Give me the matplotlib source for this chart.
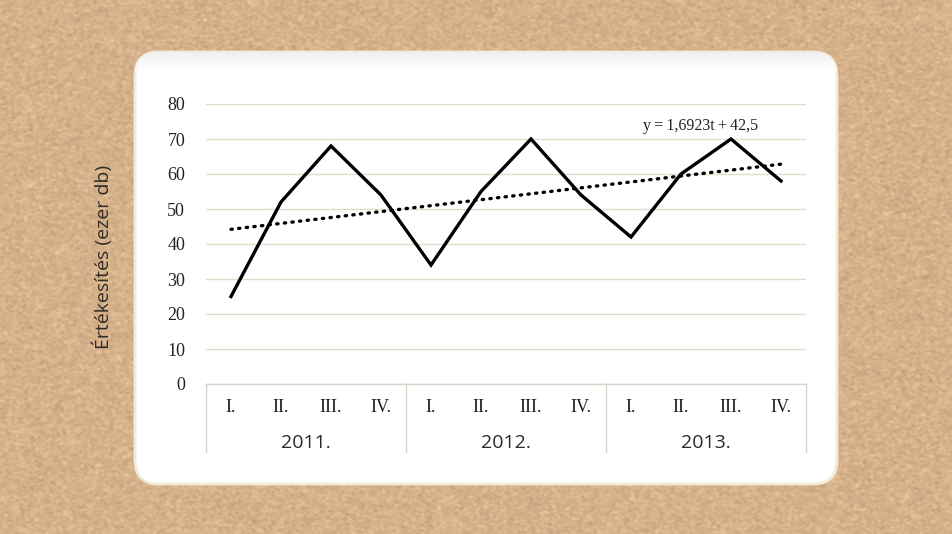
import numpy as np
import matplotlib.pyplot as plt
from matplotlib.patches import FancyBboxPatch

# quarterly sales, thousand pieces
quarters = ['I.', 'II.', 'III.', 'IV.'] * 3
years = ['2011.', '2012.', '2013.']
sales = [25, 52, 68, 54, 34, 55, 70, 54, 42, 60, 70, 58]
trend_slope = 1.6923
trend_intercept = 42.5

fig = plt.figure(figsize=(9.53, 5.34), dpi=100)

# kraft paper background
bg = fig.add_axes([0, 0, 1, 1])
bg.set_axis_off()
rng = np.random.default_rng(3)
noise = rng.normal(0, 1, (534, 953))
noise = np.apply_along_axis(lambda r: np.convolve(r, np.ones(4) / 4, mode='same'), 1, noise)
noise = np.apply_along_axis(lambda c: np.convolve(c, np.ones(3) / 3, mode='same'), 0, noise)
base = np.array([214, 178, 140]) / 255.0
tex = base[None, None, :] + noise[:, :, None] * np.array([0.085, 0.08, 0.075])
bg.imshow(np.clip(tex, 0, 1), extent=[0, 1, 0, 1], aspect='auto', zorder=0)
bg.set_xlim(0, 1)
bg.set_ylim(0, 1)

# white rounded panel
px0, py0, px1, py1 = 135 / 953, 1 - 484 / 534, 837 / 953, 1 - 52 / 534
panel = FancyBboxPatch((px0, py0), px1 - px0, py1 - py0,
                       boxstyle='round,pad=0,rounding_size=0.025',
                       transform=bg.transAxes, facecolor='white',
                       edgecolor='#f3ead8', linewidth=2.0, zorder=1,
                       mutation_aspect=953 / 534)
bg.add_patch(panel)
# faint inner shadow along the top edge
shade = np.linspace(0.94, 1.0, 40)[:, None] * np.ones((1, 10))
im = bg.imshow(np.dstack([shade, shade, shade]), extent=[px0, px1, py1 - 0.035, py1],
               aspect='auto', zorder=2)
im.set_clip_path(panel)

bg.text(103 / 953, 1 - 257 / 534, 'Értékesítés (ezer db)', rotation=90,
        ha='center', va='center', fontsize=14, color='#2e2a26', family='Open Sans')

ax = fig.add_axes([206 / 953, 1 - 384 / 534, 600 / 953, 280 / 534])
ax.patch.set_alpha(0)
t = np.arange(1, len(sales) + 1)

ax.set_xlim(0.5, 12.5)
ax.set_ylim(0, 80)
ax.set_yticks(range(0, 81, 10))
ax.grid(axis='y', color='#e2dccd', linewidth=1)
ax.set_axisbelow(True)
for s in ax.spines.values():
    s.set_visible(False)
ax.tick_params(axis='y', length=0, pad=15, labelsize=13, labelcolor='#222222')
for lab in ax.get_yticklabels():
    lab.set_family('Liberation Serif')
ax.set_xticks([])

ax.plot(t, sales, color='black', linewidth=2.4, solid_joinstyle='miter', zorder=3)
trend = trend_intercept + trend_slope * t
ax.plot(t, trend, color='black', linewidth=2.4, linestyle=(0, (0.4, 1.9)),
        dash_capstyle='round', zorder=3)
ax.text(10.4, 73.6, 'y\u2009=\u20091,6923t\u2009+\u200942,5', ha='center', va='center',
        fontsize=11.5, family='Liberation Serif', color='#222222')

# two-level category axis
line_kw = dict(color='#d9d4c8', linewidth=1, clip_on=False)
ax.plot([0.5, 12.5], [0, 0], **line_kw)
for xb in [0.5, 4.5, 8.5, 12.5]:
    ax.plot([xb, xb], [0, -19.4], **line_kw)
for i, q in enumerate(quarters):
    ax.text(i + 1, -6.6, q, ha='center', va='center', fontsize=13,
            family='Liberation Serif', color='#222222')
for j, y in enumerate(years):
    ax.text(2.5 + 4 * j, -17.0, y, ha='center', va='center', fontsize=14,
            family='Open Sans', color='#2a2a2a')

fig.savefig('out.png', dpi=100)
